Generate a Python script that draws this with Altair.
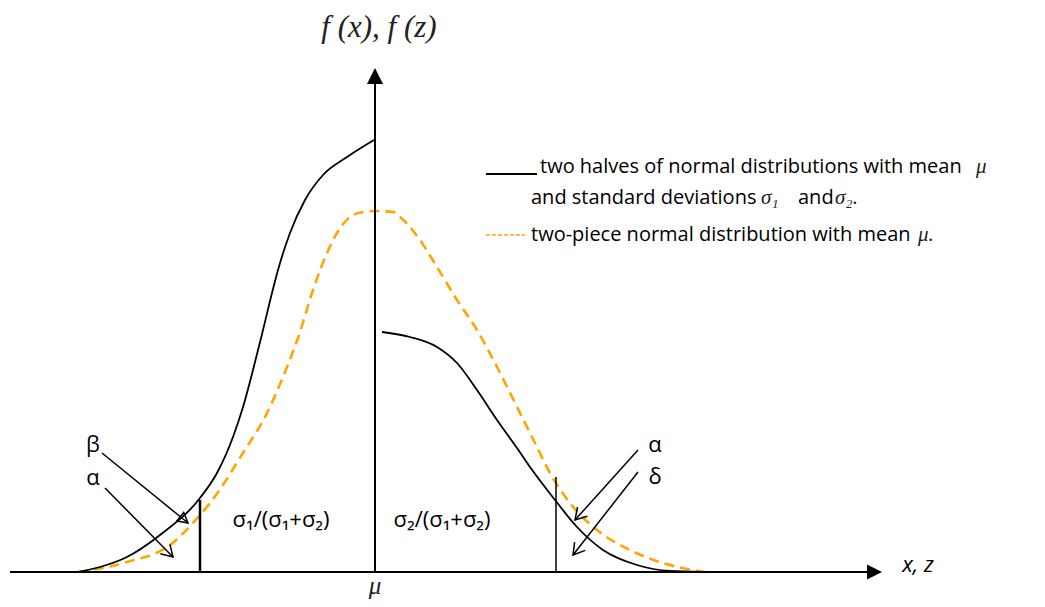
import altair as alt
import pandas as pd
import numpy as np

# ---- data (x: distance from mu, y: density height; units = screen px of reference) ----
black_left_x = [-297, -275, -248, -215, -175, -158, -142, -132, -122, -112, -103, -97, -85, -70, -52, -28, -1]
black_left_y = [0, 5, 15, 37, 74, 99, 135, 165, 202, 242, 279, 302, 339, 372, 397, 415, 432]

black_right_x = [7, 35, 62, 82, 102, 122, 142, 155, 180, 202, 228, 262, 295, 328]
black_right_y = [240, 235, 225, 209, 182, 152, 124, 105, 72, 45, 22, 7, 1, 0]

orange_x = [-297, -248, -205, -175, -165, -132, -108, -88, -77, -62, -48, -38, -25, -12, 0,
            18, 25, 45, 62, 82, 102, 122, 142, 160, 175, 195, 222, 255, 288, 330]
orange_y = [0, 10, 27, 57, 69, 119, 159, 205, 234, 282, 319, 339, 355, 360, 361,
            360, 355, 332, 305, 272, 242, 205, 165, 129, 99, 69, 42, 22, 9, 0]

# cut-off markers
cut_x = [-175, 181]
cut_top = [72, 95]
cut_w = [2.5, 1.5]

# ---- layout constants ----
W, H = 1029, 591
XD = [-367, 662]
YD = [-27, 564]
xs = alt.Scale(domain=XD, nice=False, zero=False)
ys = alt.Scale(domain=YD, nice=False, zero=False)

def X(f="x"):
    return alt.X(f"{f}:Q", scale=xs, axis=None)

def Y(f="y"):
    return alt.Y(f"{f}:Q", scale=ys, axis=None)

bl = pd.DataFrame({"x": black_left_x, "y": black_left_y})
br = pd.DataFrame({"x": black_right_x, "y": black_right_y})
orr = pd.DataFrame({"x": orange_x, "y": orange_y})

line_bl = alt.Chart(bl).mark_line(color="black", strokeWidth=1.8, interpolate="monotone").encode(x=X(), y=Y())
line_br = alt.Chart(br).mark_line(color="black", strokeWidth=1.8, interpolate="monotone").encode(x=X(), y=Y())
line_or = alt.Chart(orr).mark_line(color="#FFA500", strokeWidth=2.6, strokeDash=[10, 6],
                                   interpolate="monotone").encode(x=X(), y=Y())

cuts = pd.DataFrame({"x": cut_x, "y": [0, 0], "y2": cut_top, "w": cut_w})
cut_rules = alt.Chart(cuts).mark_rule(color="black").encode(
    x=X(), y=Y(), y2="y2:Q", strokeWidth=alt.StrokeWidth("w:Q", scale=None))

# axes
axes = pd.DataFrame({"x": [-365, 0], "x2": [494, 0], "y": [0, 0], "y2": [0, 488]})
axis_rules = alt.Chart(axes).mark_rule(color="black", strokeWidth=2).encode(
    x=X(), x2="x2:Q", y=Y(), y2="y2:Q")
heads = pd.DataFrame({"x": [507, 0], "y": [0, 504], "ang": [0, 270], "s": [900, 1024]})
axis_heads = alt.Chart(heads).mark_point(
    shape="M0,0L-1,-0.5L-1,0.5Z", filled=True, color="black", opacity=1, strokeWidth=0
).encode(x=X(), y=Y(), angle=alt.Angle("ang:Q", scale=None), size=alt.Size("s:Q", scale=None))

# annotation arrows (start -> tip)
arr_x = [-273, -270, 263, 263]
arr_y = [119, 84, 122, 100]
arr_x2 = [-187, -202, 200, 198]
arr_y2 = [49, 15, 52, 17]
arr_shape = ["closed", "open", "open", "open"]
arrows = pd.DataFrame({"x": arr_x, "y": arr_y, "x2": arr_x2, "y2": arr_y2, "kind": arr_shape})
arrows["ang"] = (np.degrees(np.arctan2(-(arrows["y2"] - arrows["y"]), arrows["x2"] - arrows["x"])) % 360)
arrow_lines = alt.Chart(arrows).mark_rule(color="black", strokeWidth=1.5).encode(
    x=X(), y=Y(), x2="x2:Q", y2="y2:Q")
head_open = alt.Chart(arrows[arrows.kind == "open"]).mark_point(
    shape="M-1,-0.6L0,0L-1,0.6", filled=False, color="black", opacity=1, strokeWidth=1.5, size=500
).encode(x=X("x2"), y=Y("y2"), angle=alt.Angle("ang:Q", scale=None))
head_closed = alt.Chart(arrows[arrows.kind == "closed"]).mark_point(
    shape="M-1,-0.55L0,0L-1,0.55Z", filled=False, color="black", opacity=1, strokeWidth=1.5, size=400
).encode(x=X("x2"), y=Y("y2"), angle=alt.Angle("ang:Q", scale=None))

# texts
SANS = "Open Sans"
SERIF = "Liberation Serif"

center_texts = pd.DataFrame({
    "t": ["σ₁/(σ₁+σ₂)", "σ₂/(σ₁+σ₂)", "β", "α", "α", "δ"],
    "x": [-94, 67, -282, -282, 280, 280],
    "y": [52, 52, 127, 94, 127, 95],
    "s": [22, 22, 22, 22, 22, 22],
})
t_center = alt.Chart(center_texts).mark_text(font=SANS, align="center", baseline="middle", color="black").encode(
    x=X(), y=Y(), text="t:N", size=alt.Size("s:Q", scale=None))

legend_texts = pd.DataFrame({
    "t": ["two halves of normal distributions with mean", "and standard deviations", "and",
          "two-piece normal distribution with mean"],
    "x": [165, 156, 423, 156],
    "y": [399, 368, 368, 331],
})
t_legend = alt.Chart(legend_texts).mark_text(font=SANS, fontSize=20, align="left", baseline="alphabetic",
                                              color="black").encode(x=X(), y=Y(), text="t:N")

serif_texts = pd.DataFrame({
    "t": ["μ", "σ₁", "σ₂.", "μ."],
    "x": [601, 386, 460, 543],
    "y": [399, 368, 368, 331],
})
t_serif = alt.Chart(serif_texts).mark_text(font=SERIF, fontSize=21, fontStyle="italic", align="left",
                                           baseline="alphabetic", color="#222").encode(x=X(), y=Y(), text="t:N")

leg_lines = pd.DataFrame({"x": [111], "x2": [162], "y": [398]})
leg_black = alt.Chart(leg_lines).mark_rule(color="black", strokeWidth=2).encode(x=X(), x2="x2:Q", y=Y())
leg_or = alt.Chart(pd.DataFrame({"x": [111], "x2": [150], "y": [337]})).mark_rule(
    color="#FFA500", strokeWidth=1.3, strokeDash=[4, 2]).encode(x=X(), x2="x2:Q", y=Y())

t_fx = alt.Chart(pd.DataFrame({"t": ["f (x), f (z)"], "x": [4], "y": [544]})).mark_text(
    font=SERIF, fontStyle="italic", fontSize=31, align="center", baseline="middle", color="#222"
).encode(x=X(), y=Y(), text="t:N")
t_mu = alt.Chart(pd.DataFrame({"t": ["μ"], "x": [0], "y": [-22]})).mark_text(
    font=SERIF, fontStyle="italic", fontSize=25, align="center", baseline="alphabetic", color="#222"
).encode(x=X(), y=Y(), text="t:N")
t_xz = alt.Chart(pd.DataFrame({"t": ["x, z"], "x": [543], "y": [7]})).mark_text(
    font=SANS, fontStyle="italic", fontSize=22, align="center", baseline="middle", color="black"
).encode(x=X(), y=Y(), text="t:N")

chart = alt.layer(
    line_or, line_bl, line_br, cut_rules, axis_rules, axis_heads,
    arrow_lines, head_open, head_closed,
    t_center, t_legend, t_serif, leg_black, leg_or, t_fx, t_mu, t_xz
).properties(
    width=W, height=H, autosize=alt.AutoSizeParams(type="none"), padding=0
).configure_view(stroke=None)

chart.save("out.html", embed_options={"renderer": "svg", "actions": False})
